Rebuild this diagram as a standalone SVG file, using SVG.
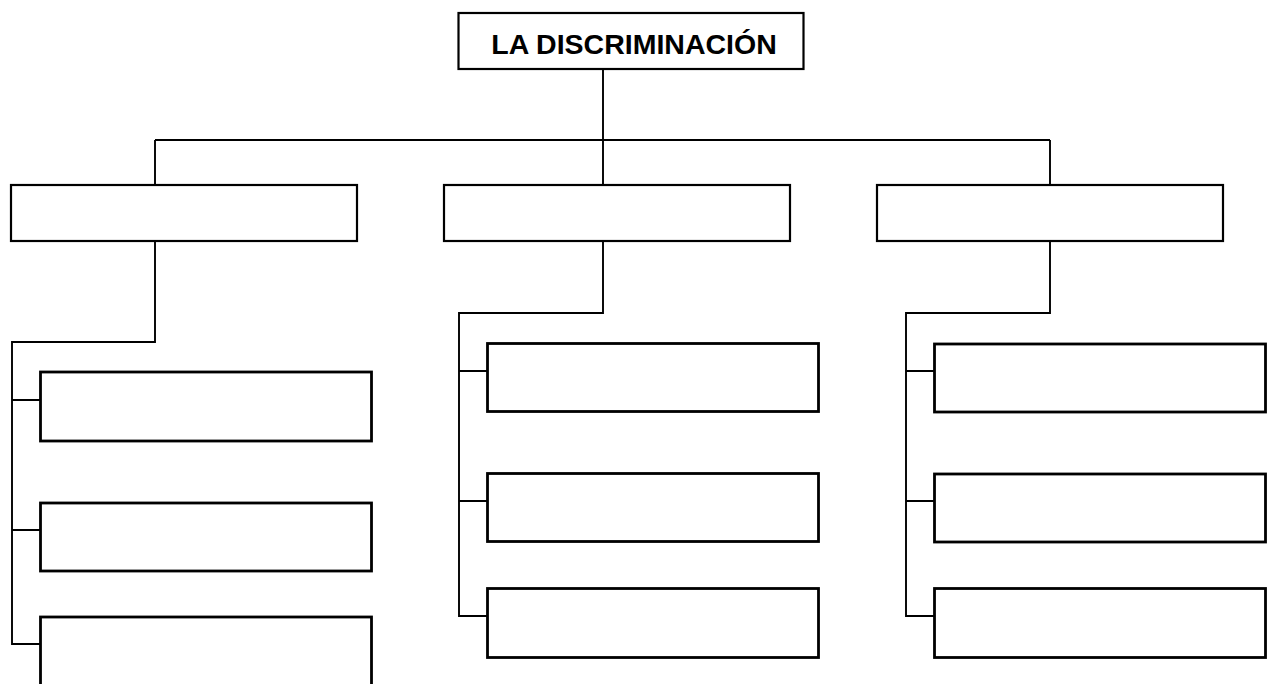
<svg xmlns="http://www.w3.org/2000/svg" width="1272" height="684" viewBox="0 0 1272 684">
<style>
.bg{fill:#ffffff}
.title{fill:#fff;stroke:#000;stroke-width:2.2}
.parent{fill:#fff;stroke:#000;stroke-width:2.2}
.child{fill:#fff;stroke:#000;stroke-width:2.8}
.conn{fill:none;stroke:#000;stroke-width:1.9}
.t{font-family:"Liberation Sans",Arial,sans-serif;font-weight:bold;font-size:28.5px;fill:#000}
</style>
<rect class="bg" x="0" y="0" width="1272" height="684"/>
<g id="connectors">
<path class="conn" d="M603 68 V185 M155 140 H1050 M155 140 V185 M1050 140 V185"/>
<path class="conn" d="M155 241 V342 H12 V644 H40 M12 400 H40 M12 530 H40"/>
<path class="conn" d="M603 241 V313 H459 V616 H487 M459 371 H487 M459 501 H487"/>
<path class="conn" d="M1050 241 V313 H906 V616 H934 M906 371 H934 M906 501 H934"/>
</g>
<g id="title">
<rect class="title" x="458.5" y="13" width="345" height="56"/>
<text class="t" x="634" y="54" text-anchor="middle">LA DISCRIMINACIÓN</text>
</g>
<g id="p1"><rect class="parent" x="11" y="185" width="346" height="56"/></g>
<g id="p2"><rect class="parent" x="444" y="185" width="346" height="56"/></g>
<g id="p3"><rect class="parent" x="877" y="185" width="346" height="56"/></g>
<g id="c1a"><rect class="child" x="40.5" y="372" width="331" height="69"/></g>
<g id="c1b"><rect class="child" x="40.5" y="503" width="331" height="68"/></g>
<g id="c1c"><rect class="child" x="40.5" y="617" width="331" height="80"/></g>
<g id="c2a"><rect class="child" x="487.5" y="343.5" width="331" height="68"/></g>
<g id="c2b"><rect class="child" x="487.5" y="473.5" width="331" height="68"/></g>
<g id="c2c"><rect class="child" x="487.5" y="588.5" width="331" height="69"/></g>
<g id="c3a"><rect class="child" x="934.5" y="344" width="331" height="68"/></g>
<g id="c3b"><rect class="child" x="934.5" y="474" width="331" height="68"/></g>
<g id="c3c"><rect class="child" x="934.5" y="588.5" width="331" height="69"/></g>
</svg>
